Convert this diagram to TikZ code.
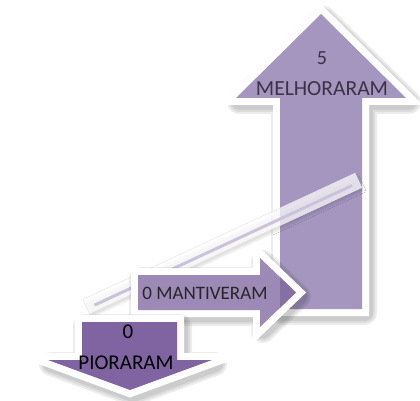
\documentclass[tikz,border=0pt]{standalone}
\usepackage{fontspec}
\setmainfont{Carlito}
\usetikzlibrary{shadows.blur}
\definecolor{UpLilac}{HTML}{A496BF}
\definecolor{MidLilac}{HTML}{9C89B6}
\definecolor{OverlapLilac}{HTML}{8670A3}
\definecolor{DownPurple}{HTML}{8064A2}
\definecolor{BarLine}{HTML}{CBC2DD}
\definecolor{InkDark}{HTML}{3A3345}

\tikzset{
  rim/.style={draw=white, fill=white, line width=14pt, line join=miter},
  rimshade/.style={draw=black, draw opacity=0.07, line width=#1, line join=round, shift={(3,4)}},
  caption/.style={font=\fontsize{#1}{#1}\selectfont, text=InkDark, inner sep=0pt},
}

% arrow outlines, in pixel units of the picture
\newcommand{\upShape}{(280,309) -- (280,98) -- (236,98) -- (321,14) -- (406,98) -- (362,98) -- (362,309) -- cycle}
\newcommand{\upShaft}{(280,309) rectangle (362,98)}
\newcommand{\midShape}{(138,275) -- (260,275) -- (260,258) -- (296,292.5) -- (260,327) -- (260,310) -- (138,310) -- cycle}
\newcommand{\downShape}{(82,322) -- (177,322) -- (177,360) -- (212,360) -- (130,390) -- (48,360) -- (82,360) -- cycle}

\begin{document}
\begin{tikzpicture}[x=1pt, y=-1pt]
\useasboundingbox (0,0) rectangle (420,401);

% melhoraram
\foreach \w in {24,20,16} \path[rimshade=\w] \upShape;
\path[rim] \upShape;
\fill[UpLilac] \upShape;
\node[caption=20] (melhorNum) at (322,58) {5};
\node[caption=21.5] (melhorTxt) at (322,89) {MELHORARAM};

% the slanted bar
\begin{scope}[shift={(90,305)}, rotate=24.9]
  \path[fill=white, fill opacity=0.75, draw=black!12,
    blur shadow={shadow xshift=2pt, shadow yshift=-3pt, shadow opacity=12}] (-4,-8) rectangle (296,8);
  \draw[BarLine, line width=3pt] (4,2) -- (288,2);
\end{scope}

% mantiveram
\foreach \w in {24,20,16} \path[rimshade=\w] \midShape;
\path[rim] \midShape;
\fill[MidLilac] \midShape;
\begin{scope}
  \clip \upShaft;
  \fill[OverlapLilac] \midShape;
\end{scope}
\node[caption=19, text=black!85] (mantTxt) at (205,293) {0 MANTIVERAM};

% pioraram
\foreach \w in {24,20,16} \path[rimshade=\w] \downShape;
\path[rim] \downShape;
\fill[DownPurple] \downShape;
\node[caption=21, text=black] (piorNum) at (128,332) {0};
\node[caption=21, text=black] (piorTxt) at (126,363) {PIORARAM};
\end{tikzpicture}
\end{document}
